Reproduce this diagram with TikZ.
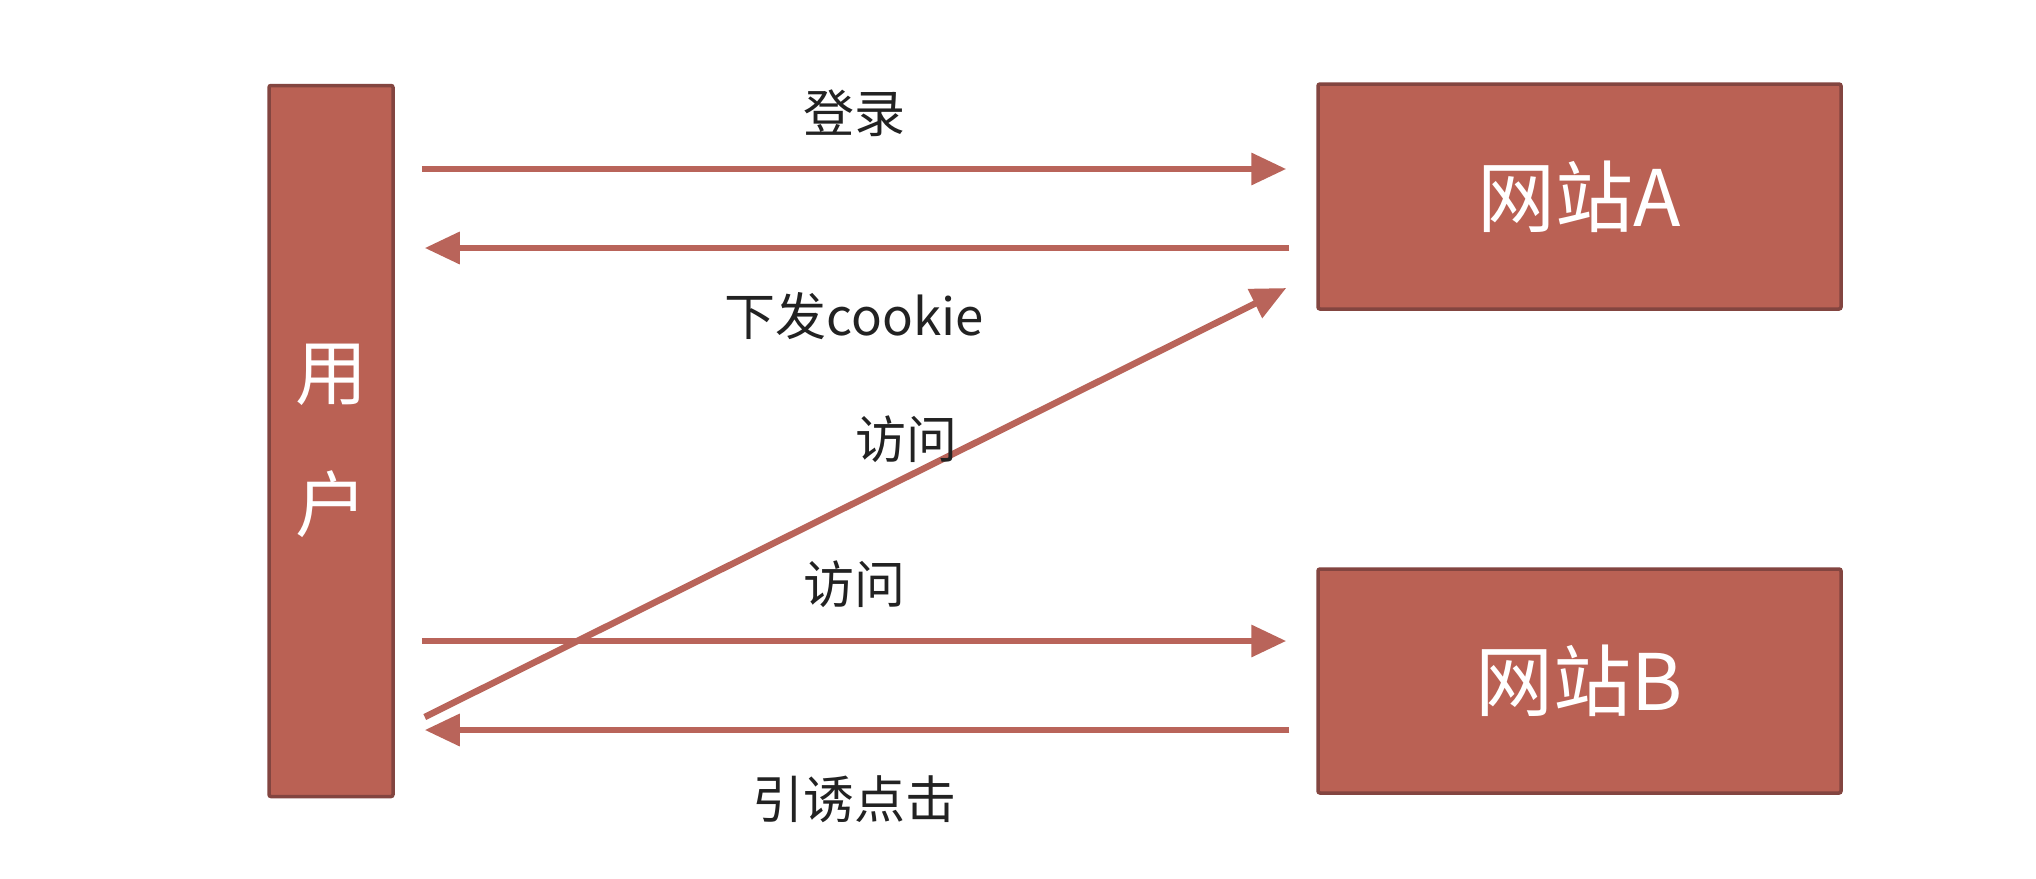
\documentclass[tikz,border=0pt]{standalone}
\usepackage{fontspec}
\setmainfont{Noto Sans CJK SC}
\usetikzlibrary{arrows.meta}
\definecolor{boxfill}{HTML}{BA6154}
\definecolor{boxedge}{HTML}{834540}
\definecolor{arr}{HTML}{B9645A}
\definecolor{ink}{HTML}{222222}
\begin{document}
\begin{tikzpicture}[x=1pt,y=-1pt,
  box/.style={draw=boxedge,fill=boxfill,line width=3.5pt,inner sep=0pt,text=white,rounded corners=2pt},
  link/.style={draw=arr,line width=6.5pt,-{Triangle[length=35pt,width=31pt]}},
  lbl/.style={font=\fontsize{51}{56}\selectfont,text=ink,inner sep=0pt}]
\useasboundingbox[fill=white] (0,0) rectangle (2036,878);
\node[box,minimum width=124pt,minimum height=711pt,align=center,
      font=\fontsize{72}{132}\selectfont] (user) at (331,441) {用\\户};
\node[box,minimum width=523pt,minimum height=225pt,
      font=\fontsize{78}{80}\selectfont] (siteA) at (1579.5,196.5) {网站A};
\node[box,minimum width=523pt,minimum height=224pt,
      font=\fontsize{78}{80}\selectfont] (siteB) at (1579.5,681) {网站B};
\coordinate (u1) at ([xshift=27pt]user.east |- 0,169);
\coordinate (a1) at ([xshift=-30pt]siteA.west |- 0,169);
\coordinate (u2) at ([xshift=30pt]user.east |- 0,248);
\coordinate (a2) at ([xshift=-27pt]siteA.west |- 0,248);
\coordinate (u3) at ([xshift=30pt]user.east |- 0,717);
\coordinate (a3) at ([xshift=-30pt]siteA.west |- 0,288);
\coordinate (u4) at ([xshift=27pt]user.east |- 0,641);
\coordinate (b4) at ([xshift=-30pt]siteB.west |- 0,641);
\coordinate (u5) at ([xshift=30pt]user.east |- 0,730);
\coordinate (b5) at ([xshift=-27pt]siteB.west |- 0,730);
\draw[link] (u1) -- (a1);
\draw[link] (a2) -- (u2);
\draw[link] (u3) -- (a3);
\draw[link] (u4) -- (b4);
\draw[link] (b5) -- (u5);
\node[lbl] (t1) at (854,113) {登录};
\node[lbl] (t2) at (854,316) {下发cookie};
\node[lbl] (t3) at (906,439) {访问};
\node[lbl] (t4) at (854,584) {访问};
\node[lbl] (t5) at (854,799) {引诱点击};
\end{tikzpicture}
\end{document}
